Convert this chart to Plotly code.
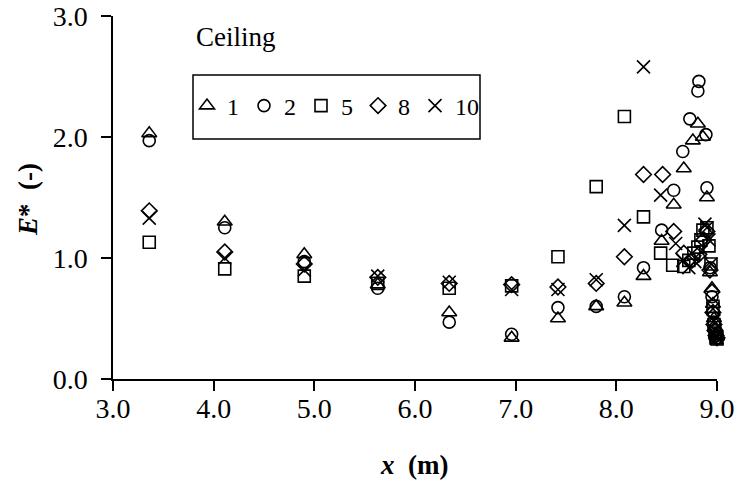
import plotly.graph_objects as go

# ---- data ----
series_names = ["1", "2", "5", "8", "10"]

x_1 = [3.36, 4.11, 4.90, 5.63, 6.34, 6.96, 7.42, 7.80, 8.08, 8.27, 8.45, 8.57, 8.67, 8.76, 8.81, 8.86, 8.90, 8.93, 8.95, 8.96, 8.97, 8.98, 8.99, 9.00]
y_1 = [2.03, 1.30, 1.03, 0.78, 0.55, 0.34, 0.50, 0.60, 0.63, 0.85, 1.14, 1.44, 1.74, 1.97, 2.11, 2.00, 1.50, 0.88, 0.75, 0.62, 0.50, 0.42, 0.37, 0.35]

x_2 = [3.36, 4.11, 4.90, 5.63, 6.34, 6.96, 7.42, 7.80, 8.08, 8.27, 8.45, 8.57, 8.66, 8.73, 8.81, 8.82, 8.89, 8.90, 8.93, 8.95, 8.96, 8.97, 8.98, 8.99, 9.00]
y_2 = [1.97, 1.25, 0.97, 0.75, 0.47, 0.37, 0.59, 0.60, 0.68, 0.92, 1.23, 1.56, 1.88, 2.15, 2.38, 2.46, 2.02, 1.58, 0.92, 0.68, 0.55, 0.47, 0.40, 0.36, 0.34]

x_5 = [3.36, 4.11, 4.90, 5.63, 6.34, 6.96, 7.42, 7.80, 8.08, 8.27, 8.44, 8.56, 8.67, 8.72, 8.77, 8.81, 8.84, 8.86, 8.90, 8.92, 8.94, 8.96, 8.97, 8.98, 8.99, 9.00]
y_5 = [1.13, 0.91, 0.85, 0.79, 0.75, 0.77, 1.01, 1.59, 2.17, 1.34, 1.04, 0.94, 0.93, 0.98, 1.04, 1.09, 1.15, 1.23, 1.25, 1.10, 0.95, 0.60, 0.45, 0.38, 0.34, 0.33]

x_8 = [3.36, 4.11, 4.90, 5.63, 6.34, 6.96, 7.42, 7.80, 8.08, 8.27, 8.46, 8.57, 8.67, 8.75, 8.82, 8.87, 8.90, 8.93, 8.95, 8.96, 8.97, 8.98, 8.99, 9.00]
y_8 = [1.39, 1.05, 0.95, 0.84, 0.79, 0.78, 0.76, 0.79, 1.01, 1.69, 1.69, 1.22, 1.04, 0.98, 1.03, 1.15, 1.22, 0.90, 0.72, 0.55, 0.45, 0.40, 0.36, 0.34]

x_10 = [3.36, 4.11, 4.90, 5.63, 6.34, 6.96, 7.42, 7.80, 8.08, 8.27, 8.44, 8.59, 8.66, 8.72, 8.78, 8.84, 8.88, 8.90, 8.92, 8.94, 8.96, 8.97, 8.98, 8.99, 9.00]
y_10 = [1.33, 1.00, 0.90, 0.85, 0.80, 0.74, 0.74, 0.82, 1.27, 2.58, 1.52, 1.12, 0.98, 0.92, 0.97, 1.05, 1.28, 1.25, 1.15, 0.95, 0.58, 0.48, 0.40, 0.36, 0.34]

x_ticks = [3.0, 4.0, 5.0, 6.0, 7.0, 8.0, 9.0]
y_ticks = [0.0, 1.0, 2.0, 3.0]

# ---- styling ----
FONT = "Liberation Serif, Times New Roman, serif"
W, H = 739, 493
L, R, T, B = 113, 22, 16, 114
pw, ph = W - L - R, H - T - B

def px_x(p):
    return (p - L) / pw

def px_y(p):
    return (H - B - p) / ph

symbols = ["triangle-up-open", "circle-open", "square-open", "diamond-open", "x-thin-open"]
sizes = [13, 12, 12, 12, 13]
xs = [x_1, x_2, x_5, x_8, x_10]
ys = [y_1, y_2, y_5, y_8, y_10]

fig = go.Figure()
for name, sx, sy, sym, sz in zip(series_names, xs, ys, symbols, sizes):
    fig.add_trace(go.Scatter(
        x=sx, y=sy, mode="markers", name=name, cliponaxis=False,
        marker=dict(symbol=sym, size=sz, color="black",
                    line=dict(color="black", width=1.6)),
    ))

axis_common = dict(
    showline=True, linecolor="black", linewidth=1.5,
    ticks="outside", ticklen=10, tickwidth=1.5, tickcolor="black",
    showgrid=False, zeroline=False, tickformat=".1f", automargin=False,
    tickfont=dict(family=FONT, size=28, color="black"),
)

fig.update_xaxes(range=[3, 9], tickvals=x_ticks, ticklabelstandoff=-6, **axis_common)
fig.update_yaxes(range=[0, 3], tickvals=y_ticks, ticklabelstandoff=8, **axis_common)

fig.update_layout(
    width=W, height=H,
    margin=dict(l=L, r=R, t=T, b=B, pad=0, autoexpand=False),
    paper_bgcolor="white", plot_bgcolor="white",
    font=dict(family=FONT, color="black"),
    showlegend=True,
    legend=dict(
        orientation="h", x=px_x(187), y=px_y(106), xanchor="left", yanchor="middle",
        font=dict(family=FONT, size=24, color="black"),
        bgcolor="rgba(0,0,0,0)", borderwidth=0,
    ),
    shapes=[dict(type="rect", xref="paper", yref="paper",
                 x0=px_x(193), x1=px_x(480), y0=px_y(139), y1=px_y(75),
                 line=dict(color="black", width=1.5))],
    annotations=[
        dict(text="Ceiling", xref="paper", yref="paper", x=px_x(194), y=px_y(37),
             xanchor="left", yanchor="middle", showarrow=False,
             font=dict(family=FONT, size=27, color="black")),
        dict(text="<b><i>E</i>*  (-)</b>", xref="paper", yref="paper",
             x=px_x(28), y=px_y(200), xanchor="center", yanchor="middle",
             textangle=-90, showarrow=False,
             font=dict(family=FONT, size=27, color="black")),
        dict(text="<b><i>x</i>  (m)</b>", xref="paper", yref="paper",
             x=px_x(414), y=px_y(465), xanchor="center", yanchor="middle",
             showarrow=False, font=dict(family=FONT, size=27, color="black")),
    ],
)

fig.write_html("out.html")
